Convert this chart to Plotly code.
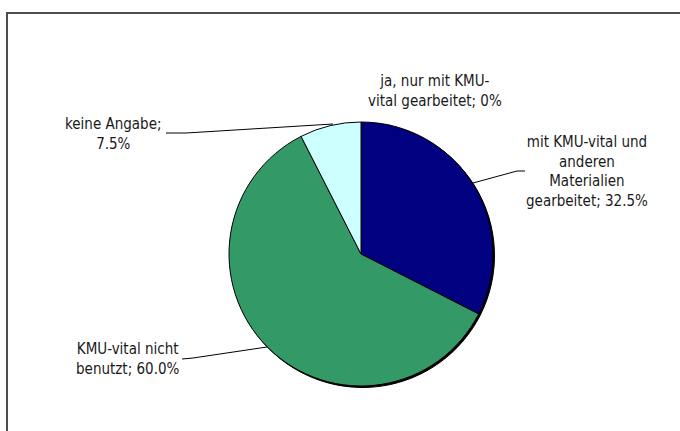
import plotly.graph_objects as go

labels = ["ja, nur mit KMU-vital gearbeitet", "mit KMU-vital und anderen Materialien gearbeitet",
          "KMU-vital nicht benutzt", "keine Angabe"]
values = [0.0, 32.5, 60.0, 7.5]
colors = ["#FFFFCC", "#000080", "#339966", "#CCFFFF"]
label_texts = [
    "ja, nur mit KMU-<br>vital gearbeitet; 0%",
    "mit KMU-vital und<br>anderen<br>Materialien<br>gearbeitet; 32.5%",
    "KMU-vital nicht<br>benutzt; 60.0%",
    "keine Angabe;<br>7.5%",
]

W, H = 680, 431
FONT = "Liberation Sans Narrow, Arial Narrow, DejaVu Sans Condensed, sans-serif"

def px(x, y):
    return x / W, 1 - y / H

cx, cy, r = 361, 254, 132
sh = 1.5

fig = go.Figure()
# shadow
fig.add_trace(go.Pie(
    labels=labels, values=values, sort=False, direction="clockwise", rotation=0,
    marker=dict(colors=["#000000"] * 4, line=dict(color="#000000", width=1)),
    textinfo="none", hoverinfo="skip", showlegend=False,
    domain=dict(x=[(cx - r + sh) / W, (cx + r + sh) / W], y=[1 - (cy + r + sh) / H, 1 - (cy - r + sh) / H]),
))
fig.add_trace(go.Pie(
    labels=labels, values=values, sort=False, direction="clockwise", rotation=0,
    marker=dict(colors=colors, line=dict(color="#000000", width=1)),
    textinfo="none", showlegend=False,
    domain=dict(x=[(cx - r) / W, (cx + r) / W], y=[1 - (cy + r) / H, 1 - (cy - r) / H]),
))

label_pos = [(435, 91), (587, 172), (128, 359), (114, 134)]
for t, (x, y) in zip(label_texts, label_pos):
    ax, ay = px(x, y)
    fig.add_annotation(x=ax, y=ay, xref="paper", yref="paper", text=t, showarrow=False,
                       xanchor="center", yanchor="middle", align="center",
                       font=dict(family=FONT, size=15, color="#1a1a1a"))

leaders = [
    [(473, 183), (517, 171), (525, 171)],
    [(182, 359), (193, 358), (267, 347)],
    [(166, 133), (186, 133), (333, 124)],
]
shapes = []
for pts in leaders:
    p = [px(*q) for q in pts]
    path = "M " + " L ".join(f"{a},{b}" for a, b in p)
    shapes.append(dict(type="path", xref="paper", yref="paper", path=path,
                       line=dict(color="#000000", width=1)))
# frame (open to the right and bottom, as in the cropped original)
x0, y1 = px(7, 13)
shapes.append(dict(type="path", xref="paper", yref="paper",
                   path=f"M {x0},-0.05 L {x0},{y1} L 1.05,{y1}",
                   line=dict(color="#4d4d4d", width=2)))

fig.update_layout(width=W, height=H, margin=dict(l=0, r=0, t=0, b=0),
                  paper_bgcolor="white", plot_bgcolor="white", shapes=shapes)
fig.write_html("out.html", config={"displayModeBar": False},
               post_script="document.body.style.margin='0px';document.body.style.overflow='hidden';")
